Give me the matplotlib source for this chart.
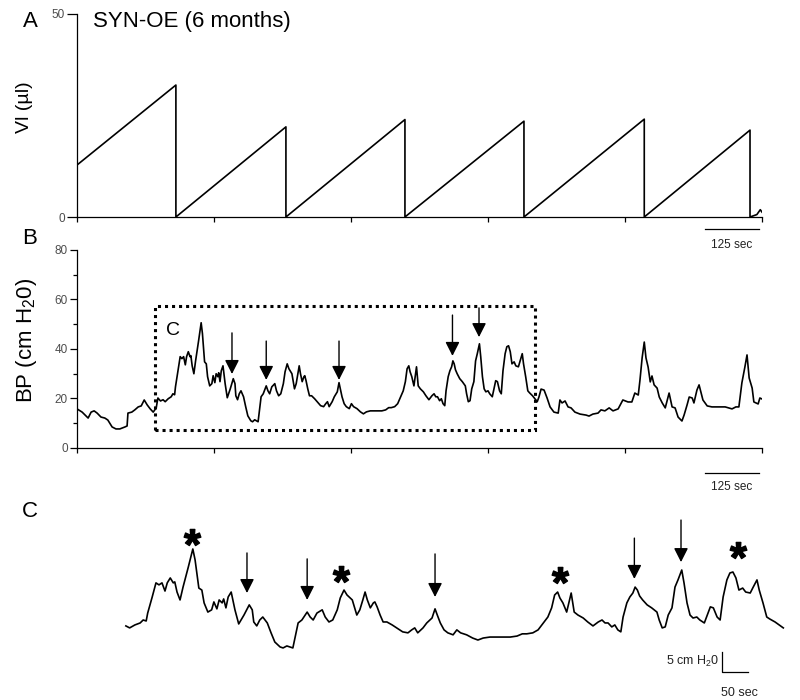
import matplotlib
matplotlib.use('Agg')  # headless
import matplotlib.pyplot as plt
from matplotlib.patches import Rectangle
from matplotlib.transforms import blended_transform_factory

plt.rcParams['font.family'] = ['Liberation Sans', 'DejaVu Sans']
plt.rcParams['mathtext.fontset'] = 'custom'
plt.rcParams['mathtext.rm'] = 'Liberation Sans'
plt.rcParams['mathtext.bf'] = 'Liberation Sans:bold'
plt.rcParams['mathtext.default'] = 'regular'

# --- data (time in s) ---
vl_time = [0, 231, 231, 488, 488, 766, 766, 1044, 1044, 1325, 1325,
           1572, 1572, 1588, 1596, 1600]
vl_value = [12.8, 32.5, 0, 22.2, 0, 24.0, 0, 23.6, 0, 24.1, 0,
            21.4, 0, 0.6, 1.8, 1.2]

bp_time = [
    0, 12, 19, 26, 33, 40, 47, 56, 65, 72,
    82, 91, 100, 112, 117, 119, 128, 135, 143, 150,
    157, 164, 171, 178, 185, 189, 195,
    201, 206, 213, 220, 224, 228, 230, 236, 241, 245,
    249, 253, 256, 260, 264, 266, 269, 273, 277, 284,
    290, 293, 296, 298, 302, 305, 310, 315, 318, 322,
    325, 329, 331, 334, 337, 341, 346, 351, 358, 365,
    369, 371, 375, 379, 383, 389, 394, 399, 406, 410,
    415, 419, 423, 426, 430, 435, 442, 446, 450, 455,
    462, 466, 471, 476, 482, 486, 491, 495, 502, 506,
    508, 512, 516, 519, 522, 526, 530, 532, 535, 539,
    543, 548, 555, 561, 569, 576, 581, 585, 589, 596,
    601, 608, 612, 615, 619, 624, 629, 636, 641, 646,
    654, 662, 669, 676, 685, 694, 702, 712, 721, 728,
    734, 742, 749, 756, 762, 767, 771, 775, 778, 782,
    787, 793, 797, 802, 809, 815, 822, 829, 834, 838,
    842, 847, 851, 855, 859, 862, 867, 871, 875, 878,
    881, 884, 888, 894, 900, 907, 910, 914, 918, 922,
    927, 931, 935, 940, 943, 947, 951, 955, 960, 964,
    970, 974, 978, 982, 987, 991, 995, 1000, 1004, 1008,
    1012, 1016, 1021, 1025, 1031, 1035, 1040, 1043, 1048, 1053,
    1057, 1064, 1075,
    1079, 1084, 1091, 1098, 1105, 1114, 1124, 1128, 1133, 1140,
    1147, 1154, 1163, 1175, 1189, 1196, 1205, 1217, 1224, 1233,
    1243, 1252, 1264, 1275, 1287, 1296, 1303, 1311, 1315, 1320,
    1325, 1329, 1334, 1339, 1343, 1348, 1355, 1360, 1367, 1374,
    1383, 1390, 1397, 1404, 1413, 1418, 1425, 1430, 1437, 1441,
    1448, 1453, 1458, 1462, 1472, 1483, 1497, 1514, 1530, 1539,
    1546, 1553, 1560, 1565, 1570, 1577, 1581, 1591, 1595, 1600,
]
bp_value = [
    15.8, 14.5, 13.3, 12.1, 14.5, 15.0, 14.1, 12.5, 12.1, 11.3,
    8.5, 7.7, 7.7, 8.5, 8.9, 14.1, 14.5, 15.4, 16.6, 17.0,
    19.4, 17.4, 15.8, 14.5, 16.2, 20.2, 19.0,
    19.5, 18.7, 19.9, 20.7, 21.9, 21.5, 24.7, 31.2, 36.9, 36.1,
    36.9, 33.6, 36.9, 38.9, 36.9, 37.3, 33.2, 30.0, 35.2, 43.3,
    50.6, 46.2, 39.3, 34.8, 34.0, 28.8, 25.1, 26.0, 29.2, 26.4,
    30.0, 28.8, 30.4, 26.8, 31.2, 33.2, 26.0, 20.3, 23.9, 28.0,
    26.0, 21.1, 19.5, 21.9, 23.1, 20.7, 16.7, 13.0, 11.0, 10.6,
    11.4, 11.0, 10.6, 15.0, 20.7, 21.9, 25.1, 23.1, 21.9, 24.7,
    26.0, 23.1, 21.1, 21.9, 26.0, 30.8, 34.0, 32.0, 30.0, 26.0,
    23.9, 26.0, 30.0, 33.2, 30.0, 26.8, 28.8, 29.2, 27.2, 23.9,
    21.1, 21.1, 19.9, 18.7, 17.1, 16.7, 17.9, 18.7, 16.7, 18.7,
    20.7, 22.7, 26.4, 23.9, 20.7, 17.9, 16.7, 15.9, 17.9, 16.7,
    15.9, 14.6, 13.8, 14.6, 15.0, 15.0, 15.0, 15.0, 15.4, 16.3,
    16.3, 16.7, 17.9, 20.7, 23.1, 26.8, 32.0, 33.2, 30.8, 28.8,
    25.1, 32.8, 25.1, 23.9, 22.7, 21.1, 19.5, 21.1, 21.9, 20.7,
    20.7, 19.1, 19.9, 17.9, 17.1, 23.1, 28.8, 31.2, 32.8, 35.2,
    34.0, 31.6, 30.0, 28.0, 26.8, 25.1, 21.9, 18.7, 19.1, 23.9,
    26.8, 35.2, 38.1, 42.1, 36.9, 28.8, 23.9, 22.7, 23.1, 21.9,
    20.7, 23.9, 27.2, 26.8, 23.1, 21.9, 31.2, 38.1, 40.9, 41.3,
    38.9, 34.0, 34.8, 33.2, 32.8, 35.2, 38.1, 34.0, 28.8, 23.1,
    22.3, 21.1, 18.7,
    20.6, 23.8, 23.4, 20.2, 16.6, 14.5, 14.1, 19.4, 18.2, 19.0,
    16.6, 16.2, 14.5, 13.7, 13.3, 12.9, 13.7, 14.1, 15.4, 15.0,
    16.2, 15.0, 15.8, 19.4, 18.6, 18.6, 22.2, 21.4, 27.5, 36.4,
    42.8, 36.4, 32.7, 26.7, 29.1, 25.5, 24.2, 20.6, 18.2, 16.2,
    22.2, 16.6, 16.2, 12.5, 10.9, 13.3, 17.4, 20.6, 20.2, 18.2,
    23.4, 25.5, 22.2, 19.4, 17.0, 16.6, 16.6, 16.6, 15.8, 16.6,
    16.6, 26.3, 32.7, 37.6, 28.3, 24.2, 18.6, 17.8, 20.2, 19.8,
]

# arrows (non-voiding contractions) and asterisks
arrow_time = [362, 442, 612, 877, 939]
arrow_top_b = [46.5, 43.2, 43.2, 53.7, 56.6]
arrow_tip_b = [29.9, 27.5, 27.5, 37.2, 44.8]
arrow_top_c = [49.0, 46.6, 48.6, 55.0, 62.3]
arrow_tip_c = [32.8, 30.0, 31.2, 38.5, 45.3]
star_time = [289, 487, 778, 1015]
star_value = [55.4, 40.5, 40.1, 50.2]

box_time = (182, 1070)
box_value = (7.3, 57.4)
c_window = (200, 1075)
x_ticks = [0, 320, 640, 960, 1280, 1600]

GRAY = '#4d4d4d'

fig = plt.figure(figsize=(8, 7), dpi=100)
ax_a = fig.add_axes([0.09625, 0.69, 0.85625, 0.29])
ax_b = fig.add_axes([0.09625, 0.36, 0.85625, 0.2829])
ax_c = fig.add_axes([0.125, 0.0143, 0.8625, 0.2714])


def trace_axis(ax):
    for s in ('top', 'right'):
        ax.spines[s].set_visible(False)
    for s in ('left', 'bottom'):
        ax.spines[s].set_linewidth(0.9)
    ax.set_xlim(0, 1600)
    ax.set_xticks(x_ticks)
    ax.tick_params(axis='x', direction='out', length=3.5, width=0.9,
                   labelbottom=False)
    ax.tick_params(axis='y', direction='out', width=0.9, pad=1.5,
                   labelsize=8.5, labelcolor=GRAY)


def scale_bar(ax, y_bar, y_text):
    tr = blended_transform_factory(ax.transData, ax.transAxes)
    ax.plot([1467, 1592], [y_bar, y_bar], color='k', lw=0.9,
            transform=tr, clip_on=False)
    ax.text(1529, y_text, '125 sec', transform=tr, ha='center',
            va='center', fontsize=8.5, color='#222222')


def draw_arrows(ax, tops, tips):
    for t, top, tip in zip(arrow_time, tops, tips):
        ax.annotate('', xy=(t, tip), xytext=(t, top),
                    arrowprops=dict(arrowstyle='-|>,head_length=0.85,head_width=0.43',
                                    color='k', lw=1, shrinkA=0, shrinkB=0))


# A: infused volume
ax_a.plot(vl_time, vl_value, color='k', lw=1.2)
trace_axis(ax_a)
ax_a.set_ylim(0, 50)
ax_a.set_yticks([0, 50])
ax_a.tick_params(axis='y', length=7)
ax_a.text(-0.076, 0.54, 'Vl (µl)', transform=ax_a.transAxes, rotation=90,
          ha='center', va='center', fontsize=14)
scale_bar(ax_a, -0.06, -0.14)

# B: bladder pressure
ax_b.plot(bp_time, bp_value, color='k', lw=1.2)
trace_axis(ax_b)
ax_b.set_ylim(0, 80)
ax_b.set_yticks([0, 20, 40, 60, 80])
ax_b.set_yticks([10, 30, 50, 70], minor=True)
ax_b.tick_params(axis='y', which='major', length=5)
ax_b.tick_params(axis='y', which='minor', length=3, width=0.9)
ax_b.text(-0.073, 0.545, r'BP (cm H$_2$0)', transform=ax_b.transAxes,
          rotation=90, ha='center', va='center', fontsize=16)
ax_b.add_patch(Rectangle((box_time[0], box_value[0]),
                         box_time[1] - box_time[0], box_value[1] - box_value[0],
                         fill=False, lw=2.2, ls=(0, (1, 1.3)), color='k'))
ax_b.text(224, 47.5, 'C', ha='center', va='center', fontsize=14)
draw_arrows(ax_b, arrow_top_b, arrow_tip_b)
scale_bar(ax_b, -0.126, -0.197)

# C: expanded segment of B
seg_t = [t for t in bp_time if c_window[0] <= t <= c_window[1]]
seg_v = [v for t, v in zip(bp_time, bp_value) if c_window[0] <= t <= c_window[1]]
ax_c.plot(seg_t, seg_v, color='k', lw=1.2)
ax_c.set_xlim(166.6, 1083.9)
ax_c.set_ylim(-6.4, 70.4)
ax_c.axis('off')
draw_arrows(ax_c, arrow_top_c, arrow_tip_c)
ax_c.plot(star_time, star_value, linestyle='none', marker=r'$\mathbf{*}$',
          ms=12, color='k')
# calibration bars
ax_c.plot([994, 994, 1028.6], [9.0, 1.0, 1.0], color='k', lw=0.9, clip_on=False)
ax_c.text(990, 5.0, r'5 cm H$_2$0', ha='right', va='center', fontsize=9,
          color='#222222')
ax_c.text(1017, -7.6, '50 sec', ha='center', va='center', fontsize=9,
          color='#222222')

# panel letters and title
fig.text(0.0375, 0.9686, 'A', fontsize=16, ha='center', va='center')
fig.text(0.0375, 0.6586, 'B', fontsize=16, ha='center', va='center')
fig.text(0.0375, 0.2686, 'C', fontsize=16, ha='center', va='center')
fig.text(0.116, 0.9686, 'SYN-OE (6 months)', fontsize=16, ha='left', va='center')

fig.savefig('out.png', dpi=100)
